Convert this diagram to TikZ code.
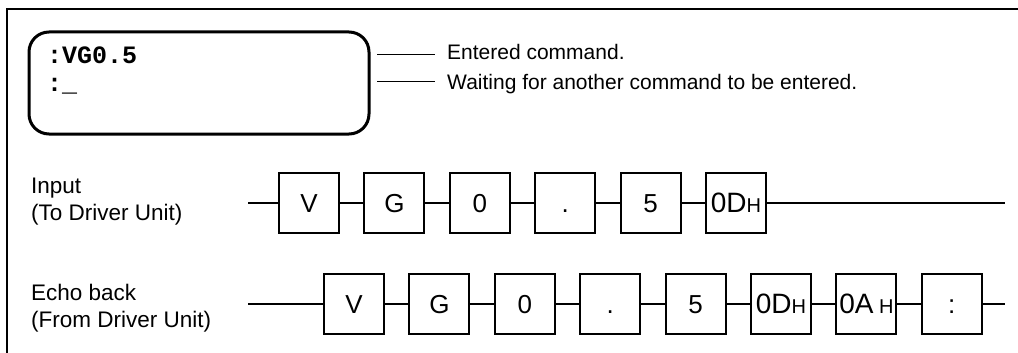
\documentclass[tikz,border=0pt]{standalone}
\usepackage{fontspec}
\setmainfont{Liberation Sans}
\newfontfamily\monob{Liberation Mono}
\begin{document}
\begin{tikzpicture}[x=1pt,y=-1pt,
  charbox/.style={draw,line width=2pt,minimum width=60pt,minimum height=60pt,inner sep=0pt,
    text height=19pt,text depth=0pt,font=\fontsize{26}{26}\selectfont},
  hexbox/.style={charbox,font=\fontsize{28}{28}\selectfont},
  wire/.style={line width=2pt},
  leader/.style={line width=1pt},
  lbl/.style={anchor=base west,inner sep=0pt,font=\fontsize{21}{21}\selectfont},
  sidelbl/.style={anchor=base west,inner sep=0pt,font=\fontsize{22.5}{22.5}\selectfont},
  mono/.style={anchor=base west,inner sep=0pt,font=\fontsize{25}{25}\monob\bfseries}]
\useasboundingbox (0,0) rectangle (1018,353);
% frame
\draw[line width=2pt] (7,353) -- (7,9) -- (1018,9);
% display
\node[draw,line width=3pt,rounded corners=20pt,minimum width=340pt,minimum height=102pt,inner sep=0pt] (disp) at (199,83) {};
\node[mono] (l1) at (47,64) {:VG0.5};
\node[mono] (l2) at (47,92) {:\_};
\node[lbl] (t1) at (447,60) {Entered command.};
\node[lbl] (t2) at (447,89) {Waiting for another command to be entered.};
\coordinate (d1) at (377,55);
\coordinate (d2) at (377,82);
\coordinate (e1) at (435,55);
\coordinate (e2) at (435,82);
\draw[leader] (d1) -- (e1);
\draw[leader] (d2) -- (e2);
% side labels
\node[sidelbl] (in1) at (31,193) {Input};
\node[sidelbl] (in2) at (31,220) {(To Driver Unit)};
\node[sidelbl] (ec1) at (31,300) {Echo back};
\node[sidelbl] (ec2) at (31,327) {(From Driver Unit)};
% input row
\coordinate (is) at (248,203);
\coordinate (ie) at (1005,203);
\node[charbox] (iV) at (309,203) {V};
\node[charbox] (iG) at (394.4,203) {G};
\node[charbox] (i0) at (479.8,203) {0};
\node[charbox] (idot) at (565.2,203) {.};
\node[charbox] (i5) at (650.6,203) {5};
\node[hexbox] (iD) at (736,203) {0D\fontsize{20}{20}\selectfont H};
\draw[wire] (is) -- (iV) -- (iG) -- (i0) -- (idot) -- (i5) -- (iD) -- (ie);
% echo row
\coordinate (es) at (248,304);
\coordinate (ee) at (1005,304);
\node[charbox] (eV) at (354,304) {V};
\node[charbox] (eG) at (439.4,304) {G};
\node[charbox] (e0) at (524.8,304) {0};
\node[charbox] (edot) at (610.2,304) {.};
\node[charbox] (e5) at (695.6,304) {5};
\node[hexbox] (eD) at (781,304) {0D\fontsize{20}{20}\selectfont H};
\node[hexbox] (eA) at (866.4,304) {0A\fontsize{20}{20}\selectfont\ H};
\node[charbox] (ec) at (951.8,304) {:};
\draw[wire] (es) -- (eV) -- (eG) -- (e0) -- (edot) -- (e5) -- (eD) -- (eA) -- (ec) -- (ee);
\end{tikzpicture}
\end{document}
